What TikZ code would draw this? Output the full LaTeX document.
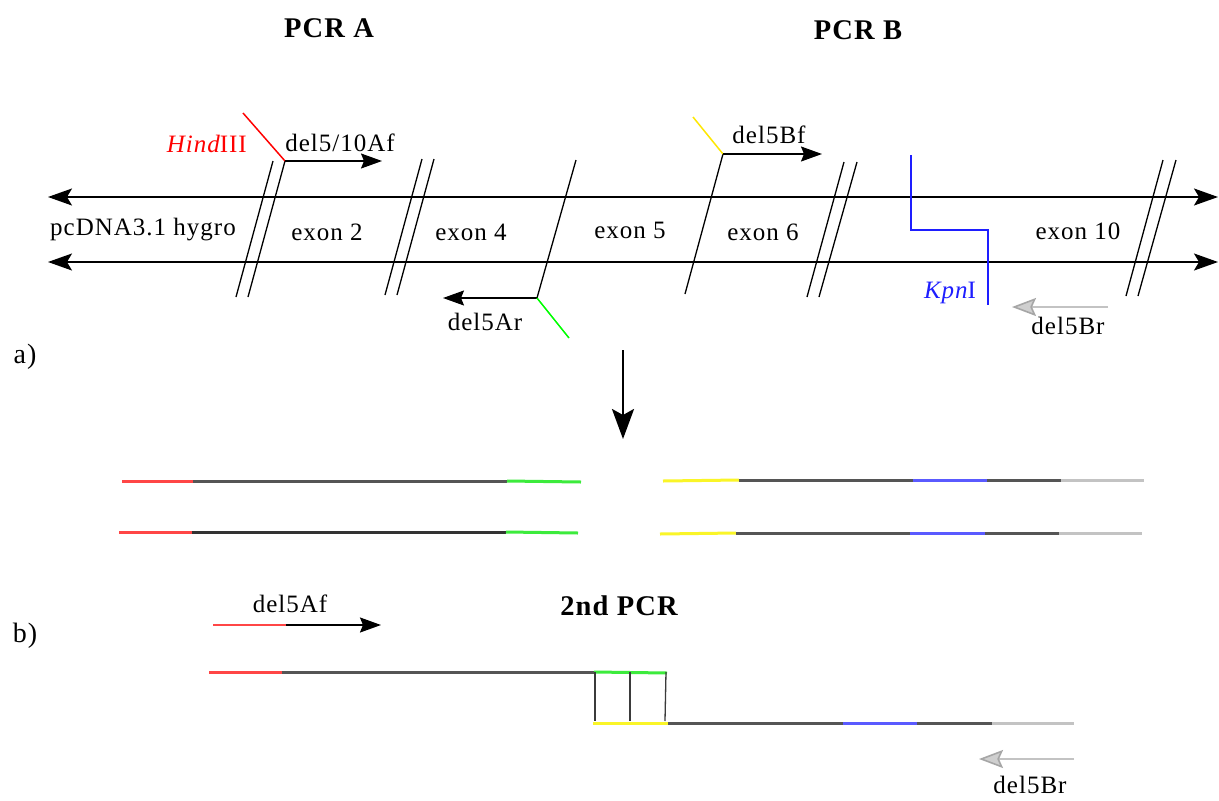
\documentclass[tikz,border=0pt]{standalone}
\usepackage{fontspec}
\setmainfont{Liberation Serif}[LetterSpace=4]
\usetikzlibrary{arrows.meta}
\definecolor{cred}{RGB}{255,70,70}
\definecolor{cgreen}{RGB}{60,235,60}
\definecolor{cyellow}{RGB}{250,245,40}
\definecolor{cblue}{RGB}{90,90,255}
\definecolor{cdark}{RGB}{85,85,85}
\definecolor{clight}{RGB}{195,195,195}
\definecolor{kpnblue}{RGB}{30,30,255}
\tikzset{
  dnaline/.style={line width=1.6pt, black},
  bigtip/.tip={Stealth[length=24pt,width=17pt,inset=5pt]},
  primer/.style={line width=1.5pt, -{Stealth[length=21pt,width=15pt,inset=3pt]}},
  grayprimer/.style={line width=1.6pt, draw=clight, -{Stealth[length=24pt,width=18pt,inset=4pt,fill=clight!80,color=gray!70]}},
  brk/.style={line width=1.3pt, black},
  lbl/.style={font=\fontsize{25}{30}\selectfont, inner sep=0pt},
  ttl/.style={font=\fontsize{28.5}{30}\selectfont\bfseries, inner sep=0pt},
  strand/.style={line width=3pt},
  site/.style={line width=1.5pt}
}
\begin{document}
\begin{tikzpicture}[x=1pt,y=-1pt]
\useasboundingbox[fill=white] (0,0) rectangle (1219,801);

% titles
\node[ttl] (pcra) at (329,28) {PCR A};
\node[ttl] (pcrb) at (858,30) {PCR B};
\node[font=\fontsize{28}{30}\selectfont, inner sep=0pt] (la) at (25,357) {a)};
\node[font=\fontsize{28}{30}\selectfont, inner sep=0pt] (lb) at (25,636) {b)};

% main double-stranded arrows
\coordinate (tl) at (48,197); \coordinate (tr) at (1218,197);
\coordinate (bl) at (48,262); \coordinate (br) at (1218,262);
\draw[dnaline, bigtip-bigtip] (tl) -- (tr);
\draw[dnaline, bigtip-bigtip] (bl) -- (br);

% break marks
\coordinate (b1a) at (236,297); \coordinate (b1b) at (273,161);
\coordinate (b2a) at (248,297); \coordinate (b2b) at (285,161);
\draw[brk] (b1a) -- (b1b); \draw[brk] (b2a) -- (b2b);
\coordinate (b3a) at (385,295); \coordinate (b3b) at (422,159);
\coordinate (b4a) at (397,295); \coordinate (b4b) at (434,159);
\draw[brk] (b3a) -- (b3b); \draw[brk] (b4a) -- (b4b);
\coordinate (s1a) at (537,298); \coordinate (s1b) at (576,160);
\draw[brk] (s1a) -- (s1b);
\coordinate (s2a) at (685,294); \coordinate (s2b) at (723,154);
\draw[brk] (s2a) -- (s2b);
\coordinate (b5a) at (807,297); \coordinate (b5b) at (844,162);
\coordinate (b6a) at (819,297); \coordinate (b6b) at (857,162);
\draw[brk] (b5a) -- (b5b); \draw[brk] (b6a) -- (b6b);
\coordinate (b7a) at (1126,296); \coordinate (b7b) at (1163,160);
\coordinate (b8a) at (1138,296); \coordinate (b8b) at (1176,160);
\draw[brk] (b7a) -- (b7b); \draw[brk] (b8a) -- (b8b);

% region labels
\node[lbl] (pc) at (143,230) {pcDNA3.1 hygro};
\node[lbl] (ex2) at (327,232) {exon 2};
\node[lbl] (ex4) at (471,232) {exon 4};
\node[lbl] (ex5) at (630,230) {exon 5};
\node[lbl] (ex6) at (763,232) {exon 6};
\node[lbl] (ex10) at (1078,231) {exon 10};

% HindIII + del5/10Af
\coordinate (hs) at (243,113);
\draw[site, red] (hs) -- (b2b);
\node[lbl, text=red, anchor=east] (hind) at (247,144) {\itshape Hind\upshape III};
\coordinate (pAf) at (382,161);
\draw[primer] (b2b) -- (pAf);
\node[lbl] (lAf) at (340,143) {del5/10Af};

% del5Ar
\coordinate (pAr) at (443,298);
\draw[primer] (s1a) -- (pAr);
\coordinate (gs) at (569,338);
\draw[site, green] (s1a) -- (gs);
\node[lbl] (lAr) at (485,322) {del5Ar};

% del5Bf
\coordinate (ys) at (693,117);
\draw[site, yellow!90!orange] (ys) -- (s2b);
\coordinate (pBf) at (822,154);
\draw[primer] (s2b) -- (pBf);
\node[lbl] (lBf) at (769,135) {del5Bf};

% KpnI
\coordinate (k1) at (911,155); \coordinate (k2) at (911,230);
\coordinate (k3) at (988,230); \coordinate (k4) at (988,305);
\draw[site, kpnblue, line width=1.8pt] (k1) -- (k2) -- (k3) -- (k4);
\node[lbl, text=kpnblue] (lkpn) at (950,293) {\itshape Kpn\upshape I};

% del5Br
\coordinate (pBr0) at (1108,307); \coordinate (pBr1) at (1012,307);
\draw[grayprimer] (pBr0) -- (pBr1);
\node[lbl] (lBr) at (1068,326) {del5Br};

% down arrow
\coordinate (da0) at (623,350); \coordinate (da1) at (623,439);
\draw[line width=2.6pt, -{Stealth[length=30pt,width=22pt,inset=6pt]}] (da0) -- (da1);

% PCR A products
\coordinate (a1) at (122,481); \coordinate (a2) at (193,481); \coordinate (a3) at (507,481); \coordinate (a4) at (581,482);
\draw[strand, cred] (a1) -- (a2);
\draw[strand, cdark] (a2) -- (a3);
\draw[strand, cgreen] (a3) -- (a4);
\coordinate (c1) at (119,532); \coordinate (c2) at (192,532); \coordinate (c3) at (506,532); \coordinate (c4) at (578,533);
\draw[strand, cred] (c1) -- (c2);
\draw[strand, black!80] (c2) -- (c3);
\draw[strand, cgreen] (c3) -- (c4);

% PCR B products
\coordinate (d1) at (663,481); \coordinate (d2) at (739,480); \coordinate (d3) at (913,480); \coordinate (d4) at (987,480); \coordinate (d5) at (1061,480); \coordinate (d6) at (1144,480);
\draw[strand, cyellow] (d1) -- (d2);
\draw[strand, cdark] (d2) -- (d3);
\draw[strand, cblue] (d3) -- (d4);
\draw[strand, cdark] (d4) -- (d5);
\draw[strand, clight] (d5) -- (d6);
\coordinate (e1) at (660,534); \coordinate (e2) at (736,533); \coordinate (e3) at (910,533); \coordinate (e4) at (985,533); \coordinate (e5) at (1059,533); \coordinate (e6) at (1142,533);
\draw[strand, cyellow] (e1) -- (e2);
\draw[strand, cdark] (e2) -- (e3);
\draw[strand, cblue] (e3) -- (e4);
\draw[strand, cdark] (e4) -- (e5);
\draw[strand, clight] (e5) -- (e6);

% 2nd PCR
\node[ttl] (pcr2) at (619,606) {2nd PCR};
\coordinate (f1) at (213,625); \coordinate (f2) at (286,625); \coordinate (f3) at (381,625);
\draw[strand, cred, line width=2.4pt] (f1) -- (f2);
\draw[primer, line width=1.8pt] (f2) -- (f3);
\node[lbl] (lAf2) at (290,604) {del5Af};

\coordinate (g1) at (209,672); \coordinate (g2) at (282,672); \coordinate (g3) at (594,672); \coordinate (g4) at (667,673);
\draw[strand, cred] (g1) -- (g2);
\draw[strand, cdark] (g2) -- (g3);
\draw[strand, cgreen] (g3) -- (g4);

\coordinate (h1) at (593,723); \coordinate (h2) at (668,723); \coordinate (h3) at (843,723); \coordinate (h4) at (917,723); \coordinate (h5) at (992,723); \coordinate (h6) at (1074,723);
\draw[strand, cyellow] (h1) -- (h2);
\draw[strand, cdark] (h2) -- (h3);
\draw[strand, cblue] (h3) -- (h4);
\draw[strand, cdark] (h4) -- (h5);
\draw[strand, clight] (h5) -- (h6);

\coordinate (v1t) at (595,672); \coordinate (v1b) at (595,721);
\coordinate (v2t) at (630,672); \coordinate (v2b) at (630,721);
\coordinate (v3t) at (666,672); \coordinate (v3b) at (665,721);
\draw[brk, cdark!70!black] (v1t) -- (v1b);
\draw[brk, cdark!70!black] (v2t) -- (v2b);
\draw[brk, cdark!70!black] (v3t) -- (v3b);

\coordinate (q0) at (1074,759); \coordinate (q1) at (979,759);
\draw[grayprimer] (q0) -- (q1);
\node[lbl] (lBr2) at (1030,785) {del5Br};
\end{tikzpicture}
\end{document}
